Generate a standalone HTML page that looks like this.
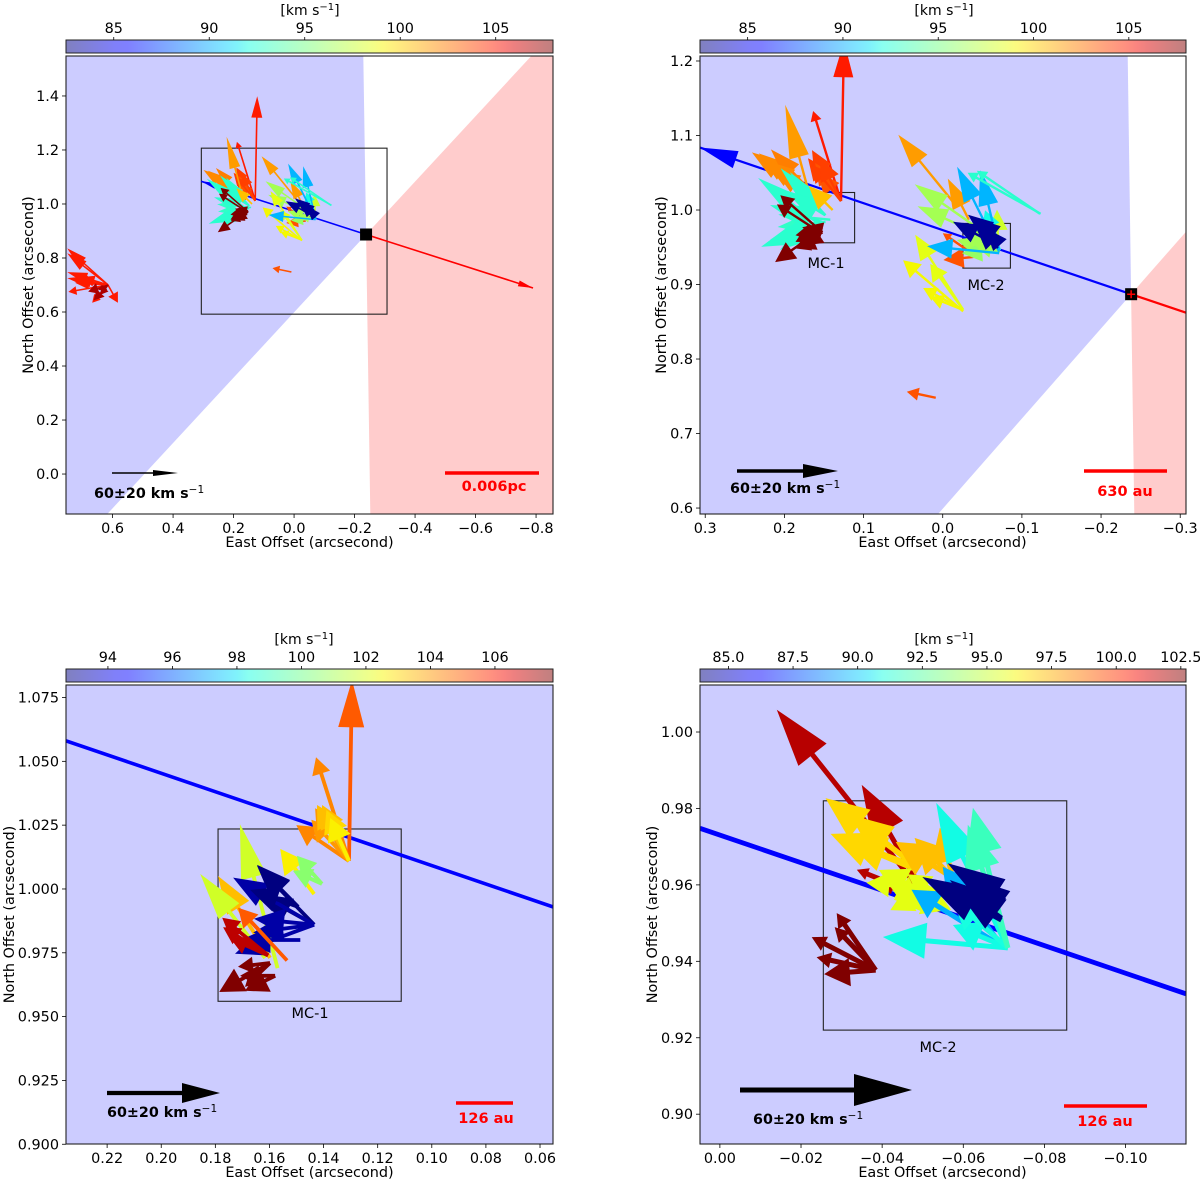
<!DOCTYPE html>
<html lang="en">
<head>
<meta charset="utf-8">
<title>Proper motion maps</title>
<style>
html,body{margin:0;padding:0;background:#fff;overflow:hidden;width:1200px;height:1182px;}
svg{display:block;overflow:hidden;}
text{font-family:"DejaVu Sans",sans-serif;fill:#000;}
</style>
</head>
<body>
<svg id="figure" xmlns="http://www.w3.org/2000/svg" width="1200" height="1182" viewBox="0 0 1200 1182"></svg>
<script>
// Shared field (panels 1 and 2): tail position in arcsec, velocity vector in km/s, LOS velocity, head span in km/s
var sharedX = [.1285,.1285,.1285,.1285,.1285,.1285,.1285,.1285,
  .165,.159,.159,.159,.159,.159,
  .148,.155,.142,.148,.155,.1487,.1487,.1525,.1525,.1525,
  .139,
  .155,.155,.152,.152,.152,.155,.152,.152,.161,
  -.016,-.033,-.048,-.044,-.0387,-.0367,-.0258,-.0258,-.0258,-.0258,-.0258,-.0698,-.0723,-.0723,-.0723,-.0723,-.0723,
  -.0713,-.0713,-.0713,-.1237,-.1227,-.0698,-.0723,-.0698,-.0723,-.0723,.0088,
  .615,.615,.615,.615,.615,.615,.615,.615,.615,.615,.615,.615,.615,.615];
var sharedY = [1.012,1.012,1.012,1.012,1.012,1.012,1.012,1.012,
  1.007,1.017,1.017,1.017,1.017,1.017,
  .993,.98,.987,.984,.98,.993,.993,.984,.984,.984,
  1,
  .973,.97,.97,.973,.976,.962,.97,.97,.96,
  1.007,.987,.973,.969,.937,.942,.866,.864,.866,.866,.866,.956,.944,.946,.946,.946,.946,
  .944,.946,.942,.995,.995,.952,.96,.949,.962,.953,.748,
  .7,.7,.7,.7,.7,.7,.7,.7,.7,.7,.7,.7,.7,.7];
var sharedU = [-1.8,16.6,19.6,17.2,15.4,13.7,17.2,12.5,
  16,38.6,34.5,27.3,31,25,
  26.7,36.8,30.9,28.5,35,20.8,23.8,30.9,30.9,25,
  14.3,
  26.7,25.6,25,16,16,14.9,12,12,12,
  33.9,12.5,39.2,35.7,17.8,17.2,28.5,35.7,23.8,19.6,19.6,.6,25.5,22.6,20,15,8.9,
  25,11.3,42.8,43.4,37.4,26.7,19,13.7,14.9,8.9,17.2,
  37,37,37,37,36,-9,23.4,14.4,9,7.3,25,30,18,13];
var sharedV = [95,53.5,25.5,30.3,22.6,17.2,21.4,25,
  59.4,26.7,26.1,28.5,22,16,
  27.9,27.9,3,-3,-13,25.5,14.9,10,-10.7,-16.6,
  14.3,
  -19,16.6,22,-3,-8.3,-6,3,-8,-5,
  41.6,24.4,27.3,16,-1.8,11.9,44.6,30.3,13,7.7,27.3,19.6,7,-1.8,12,3,23.8,
  50.5,47.5,4.2,24.4,25.5,14.3,14.9,13.7,11.9,10.1,3.6,
  33.3,28.8,11.7,6.3,-6.3,-16.2,2.7,-16.2,-4.5,-9,7,2,-6,-14];
var sharedVel = [105,105,104,104,103.5,103.5,104,104,
  101.5,102,102,102.3,102,102,
  92.7,92.7,92.9,92.9,92.7,92.7,92.7,92.7,92.7,92.7,
  100.5,
  108,108,108,108,108,108,108,108,108,
  101.5,101.5,96.5,96.5,103.5,103.5,98.5,99,99,99,98.5,97.8,96.5,96,96.5,96.5,92,
  90.2,90.2,90.2,92.7,92.7,83,83,83,83,83,103.5,
  105,105,105,105,105,105,105,105,107,107,105,105,107,107];
var sharedErr = [21.4,6,13,13,13,13,10,13,
  32,18,18,18,18,15,
  25,25,18,18,20,25,22,20,22,20,
  14,
  12,8,8,9,9,9,12,12,12,
  20,18,20,18,12,5,15,10,8,8,10,12,12,12,12,10,10,
  21,21,15,6,6,15,15,15,15,15,7,
  20,20,20,20,8,10,8,8,8,8,14,14,10,10];

// MC-1 close-up (panel 3)
var mc1X = [.1306,.1306,.1306,.1306,.1306,.1306,.1306,.1306,.1306,.1435,.1406,.1406,.157,.1598,.1616,.1435,.1435,.1435,.1435,.1435,.1435,.1494,.1494,.1486,.1535,.1605,.1605,.1605,.1598,.1598,.1598,.1579,.1579];
var mc1Y = [1.011,1.011,1.011,1.011,1.011,1.011,1.011,1.011,1.011,.998,1.002,1.002,.969,.973,.973,.986,.986,.986,.986,.986,.986,.993,.993,.98,.972,.974,.974,.974,.971,.971,.971,.966,.966];
var mc1U = [-1.6,17.5,28,20,18,17,14.3,12,10,18,13.3,15.4,20,27.6,34.5,30.3,29.7,43,31.9,32.4,42,21.8,25.5,31.9,26,24.4,23.9,20,27,17,13.3,16,18.6];
var mc1V = [96,55,19,21.8,28,29.7,29.7,27,22.8,24,14.9,7,76.5,43.5,44.6,31.4,16.5,25,3.2,-4.2,-15.4,22.3,9,0,28,20,14.9,9,-15.4,-2,-12.7,-8,0];
var mc1Vel = [105,104.3,104.3,104,104,103.4,103.4,103,102.6,102.6,100.5,100.5,101.8,103.4,101.8,92.7,92.7,93.2,93.2,93.2,93.2,92.7,92.7,93.2,105,107,107,107,107.8,107.8,107.8,107.8,107.8];
var mc1Err = [25,9,11,11,11,12,12,12,12,13,10,10,29,20,25,18,18,18,16,16,16,18,15,16,10,9,9,9,13,8,10,12,10];

// MC-2 close-up (panel 4)
var mc2X = [-.0493,-.051,-.051,-.051,-.0485,-.0485,-.0486,-.0486,-.0574,-.0574,-.0574,-.0485,-.0505,-.0547,-.0505,-.0485,-.0505,-.0547,-.0547,-.0697,-.0697,-.071,-.071,-.071,-.071,-.071,-.071,-.0694,-.0702,-.0694,-.069,-.0384,-.0384,-.0384,-.0384,-.0384];
var mc2Y = [.9587,.9566,.9566,.9566,.9647,.9639,.9647,.9647,.9618,.9618,.9618,.9595,.9579,.9568,.9579,.9595,.9579,.9568,.9568,.9438,.9438,.9435,.9435,.9435,.9435,.9435,.9435,.9508,.956,.9513,.9547,.9377,.9377,.9377,.9377,.9377];
var mc2U = [49.9,22.7,24.4,15.7,31.8,30,23.4,25,19.9,13.3,4.5,17.5,10.8,14.7,12,8,16,12,8,31.8,20.9,25,43.6,19.2,19.2,12.2,14,27.6,19.9,18,14,18,13.6,22.3,20.6,14.3];
var mc2V = [62.8,39.4,9.8,4.5,24,12.6,18.2,9.4,12.6,14,17.5,1.4,-2.4,-2,-6,-4,8,8,-6,19.9,27.9,50.6,3.8,8,16.8,48.9,43,15,12.9,13.3,10.5,-1.4,19.9,11.5,4.5,15];
var mc2Vel = [101.8,101.8,101.8,101.8,96.7,96.7,96.7,96.7,97.2,97.2,97.2,95.7,95.7,95.7,95.7,95.7,95.7,95.7,95.7,89.5,89.5,90.9,90.9,90.9,91,91.8,91.8,83.9,83.9,83.9,83.9,102.7,102.7,102.7,102.7,102.7];
var mc2Err = [20,18,4,4,15,14,15,14,12,12,12,8,10,10,8,8,10,8,10,10,10,21,15,10,10,16,16,20,20,20,18,9,5,5,5,5];

// Tick labels
var p1XTicks = [.6,.4,.2,0,-.2,-.4,-.6,-.8];
var p1YTicks = [0,.2,.4,.6,.8,1,1.2,1.4];
var p2XTicks = [.3,.2,.1,0,-.1,-.2,-.3];
var p2YTicks = [.6,.7,.8,.9,1,1.1,1.2];
var p3XTicks = [.22,.2,.18,.16,.14,.12,.1,.08,.06];
var p3YTicks = [.9,.925,.95,.975,1,1.025,1.05,1.075];
var p4XTicks = [0,-.02,-.04,-.06,-.08,-.1];
var p4YTicks = [.9,.92,.94,.96,.98,1];
var cb1Ticks = [85,90,95,100,105];
var cb3Ticks = [94,96,98,100,102,104,106];
var cb4Ticks = [85,87.5,90,92.5,95,97.5,100,102.5];

// Geometry of the outflow axis and cones, arcsec
var apexPoint = [-.238,.887];
var blueTip = [.307,1.084];
var redTip = [-.79,.689];
var box1 = [.179,.1113,1.0235,.956];
var box2 = [-.0255,-.0855,.982,.922];

var NS = 'http://www.w3.org/2000/svg';
var svg = document.getElementById('figure');
var defs = document.createElementNS(NS, 'defs');
svg.appendChild(defs);

function mk(tag, attrs, parent) {
  var e = document.createElementNS(NS, tag);
  for (var k in attrs) { e.setAttribute(k, attrs[k]); }
  parent.appendChild(e);
  return e;
}
function fmt(v, dec) {
  return (v < 0 ? '\u2212' : '') + Math.abs(v).toFixed(dec);
}
function jet(t) {
  t = Math.max(0, Math.min(1, t));
  function lerp(pts) {
    for (var i = 1; i < pts.length; i++) {
      if (t <= pts[i][0]) {
        var a = pts[i - 1], b = pts[i];
        return a[1] + (b[1] - a[1]) * (t - a[0]) / (b[0] - a[0]);
      }
    }
    return pts[pts.length - 1][1];
  }
  var r = lerp([[0,0],[.35,0],[.66,1],[.89,1],[1,.5]]);
  var g = lerp([[0,0],[.125,0],[.375,1],[.64,1],[.91,0],[1,0]]);
  var b = lerp([[0,.5],[.11,1],[.34,1],[.65,0],[1,0]]);
  return 'rgb(' + Math.round(r * 255) + ',' + Math.round(g * 255) + ',' + Math.round(b * 255) + ')';
}
function clipEdge(poly, inside, cross) {
  var out = [];
  for (var i = 0; i < poly.length; i++) {
    var a = poly[i], b = poly[(i + 1) % poly.length];
    var ia = inside(a), ib = inside(b);
    if (ia) { out.push(a); }
    if (ia !== ib) { out.push(cross(a, b)); }
  }
  return out;
}
function clipRect(poly, L, T, R, B) {
  function atX(x) { return function (a, b) { return [x, a[1] + (b[1] - a[1]) * (x - a[0]) / (b[0] - a[0])]; }; }
  function atY(y) { return function (a, b) { return [a[0] + (b[0] - a[0]) * (y - a[1]) / (b[1] - a[1]), y]; }; }
  poly = clipEdge(poly, function (p) { return p[0] >= L; }, atX(L));
  poly = clipEdge(poly, function (p) { return p[0] <= R; }, atX(R));
  poly = clipEdge(poly, function (p) { return p[1] >= T; }, atY(T));
  poly = clipEdge(poly, function (p) { return p[1] <= B; }, atY(B));
  return poly;
}
function clipSegment(x1, y1, x2, y2, L, T, R, B) {
  var t0 = 0, t1 = 1, dx = x2 - x1, dy = y2 - y1;
  var ps = [-dx, dx, -dy, dy], qs = [x1 - L, R - x1, y1 - T, B - y1];
  for (var i = 0; i < 4; i++) {
    if (ps[i] === 0) {
      if (qs[i] < 0) { return null; }
    } else {
      var r = qs[i] / ps[i];
      if (ps[i] < 0) { t0 = Math.max(t0, r); } else { t1 = Math.min(t1, r); }
    }
  }
  if (t0 > t1) { return null; }
  return [x1 + t0 * dx, y1 + t0 * dy, x1 + t1 * dx, y1 + t1 * dy];
}

var panels = [
  {id:'p1', L:66, T:56, W:487, H:458, xl:.754, xr:-.856, yb:-.148, yt:1.548, vmin:82.5, vmax:108,
   xt:p1XTicks, xd:1, yt2:p1YTicks, yd:1, ct:cb1Ticks, cd:0, scale:1.1, hw:11, sw:1.6, hk:1.0,
   yTitleX:28, cones:true, bigBox:true, marker:'plain', hb:15, hbw:6, lw:1.6,
   refX:[112,178], refY:473, refSw:1.6, refHl:25, refHw:6, refTx:94, refTy:498, sbar:[445,539,473], sTxt:'0.006pc', sTxtX:494, sTxtY:491, mc:[]},
  {id:'p2', L:700, T:56, W:486, H:458, xl:.3066, xr:-.3073, yb:.592, yt:1.2067, vmin:82.5, vmax:108,
   xt:p2XTicks, xd:1, yt2:p2YTicks, yd:1, ct:cb1Ticks, cd:0, scale:1.683, hw:20, sw:2.4, hk:1.683,
   yTitleX:661, cones:true, bigBox:false, marker:'cross', hb:38, hbw:18, lw:2.2,
   refX:[737,838], refY:471, refSw:3.6, refHl:35, refHw:14, refTx:730, refTy:493, sbar:[1084,1167,471], sTxt:'630 au', sTxtX:1125, sTxtY:496, mc:[[box1,'MC-1',826,268],[box2,'MC-2',986,290]]},
  {id:'p3', L:66, T:685, W:487, H:459, xl:.2352, xr:.0552, yb:.9001, yt:1.0799, vmin:92.7, vmax:107.8,
   xt:p3XTicks, xd:2, yt2:p3YTicks, yd:3, ct:cb3Ticks, cd:0, scale:1.883, hw:26, sw:3.8, hk:1.883,
   yTitleX:9, cones:false, bigBox:false, marker:'none', hb:0, hbw:0, lw:3.6,
   refX:[107,220], refY:1093, refSw:4.2, refHl:38, refHw:20, refTx:107, refTy:1117, sbar:[456,513,1103], sTxt:'126 au', sTxtX:486, sTxtY:1123, mc:[[box1,'MC-1',310,1018]]},
  {id:'p4', L:700, T:685, W:486, H:459, xl:.0049, xr:-.1149, yb:.8922, yt:1.0123, vmin:83.9, vmax:102.7,
   xt:p4XTicks, xd:2, yt2:p4YTicks, yd:2, ct:cb4Ticks, cd:1, scale:2.867, hw:36, sw:5, hk:2.867,
   yTitleX:652, cones:false, bigBox:false, marker:'none', hb:0, hbw:0, lw:4.8,
   refX:[740,912], refY:1090, refSw:5, refHl:58, refHw:32, refTx:753, refTy:1124, sbar:[1064,1147,1106], sTxt:'126 au', sTxtX:1105, sTxtY:1126, mc:[[box2,'MC-2',938,1052]]}
];

function drawPanel(P, idx, xs, ys, us, vs, vels, errs) {
  var xPx = function (d) { return P.L + (P.xl - d) / (P.xl - P.xr) * P.W; };
  var yPx = function (d) { return P.T + (P.yt - d) / (P.yt - P.yb) * P.H; };
  var cPx = function (v) { return P.L + (v - P.vmin) / (P.vmax - P.vmin) * P.W; };

  var clip = mk('clipPath', {id: 'clip-' + P.id}, defs);
  mk('rect', {x: P.L, y: P.T, width: P.W, height: P.H}, clip);

  var g = mk('g', {}, svg);
  
  

  var plot = mk('g', {'clip-path': 'url(#clip-' + P.id + ')'}, g);
  
  

  var bg = mk('rect', {x: P.L, y: P.T, width: P.W, height: P.H, fill: P.cones ? '#ffffff' : '#ccccff'}, plot);
  
  

  if (P.cones) {
    var ax = apexPoint[0], ay = apexPoint[1];
    var far = 4;
    var bluePts = [[ax, ay], [ax + .0136 * far, ay + far], [ax + far, ay + far], [ax + far, ay - 1.21 * far]];
    var redPts = [[ax, ay], [ax - far, ay + 1.21 * far], [ax - far, ay - far], [ax - .0136 * far, ay - far]];
    var toPts = function (arr) {
      var px = arr.map(function (p) { return [xPx(p[0]), yPx(p[1])]; });
      return clipRect(px, P.L, P.T, P.L + P.W, P.T + P.H).map(function (p) { return p[0].toFixed(1) + ',' + p[1].toFixed(1); }).join(' ');
    };
    var cb = mk('polygon', {points: toPts(bluePts), fill: '#ccccff'}, plot);
    
    
    var cr = mk('polygon', {points: toPts(redPts), fill: '#ffcccc'}, plot);
    
    
  }

  if (P.bigBox) {
    var bb = mk('rect', {x: xPx(.3066), y: yPx(1.2067), width: xPx(-.3073) - xPx(.3066), height: yPx(.592) - yPx(1.2067), fill: 'none', stroke: '#222', 'stroke-width': 1.1}, plot);
    
    
  }
  P.mc.forEach(function (m) {
    var b = m[0];
    var r = mk('rect', {x: xPx(b[0]), y: yPx(b[2]), width: xPx(b[1]) - xPx(b[0]), height: yPx(b[3]) - yPx(b[2]), fill: 'none', stroke: '#222', 'stroke-width': 1.1}, plot);
    
    
    var t = mk('text', {x: m[2], y: m[3], 'text-anchor': 'middle', 'font-size': 14.5}, plot);
    
    
    t.textContent = m[1];
  });

  // Outflow axis, trimmed to the axes box
  var R = P.L + P.W, B = P.T + P.H;
  var blueSeg = clipSegment(xPx(apexPoint[0]), yPx(apexPoint[1]), xPx(blueTip[0]), yPx(blueTip[1]), P.L, P.T, R, B);
  if (blueSeg) {
    var blueLine = mk('line', {x1: blueSeg[0], y1: blueSeg[1], x2: blueSeg[2], y2: blueSeg[3], stroke: '#0000ff', 'stroke-width': P.lw}, plot);
    
    
  }
  var redSeg = clipSegment(xPx(apexPoint[0]), yPx(apexPoint[1]), xPx(redTip[0]), yPx(redTip[1]), P.L, P.T, R, B);
  if (redSeg) {
    var redLine = mk('line', {x1: redSeg[0], y1: redSeg[1], x2: redSeg[2], y2: redSeg[3], stroke: '#ff0000', 'stroke-width': P.lw}, plot);
    
    
  }
  if (P.hb > 0) {
    [[blueTip, '#0000ff', 'blue-axis-head'], [redTip, '#ff0000', 'red-axis-head']].forEach(function (h) {
      var tx = xPx(h[0][0]), ty = yPx(h[0][1]);
      if (tx < P.L - 5 || tx > R + 5) { return; }
      var ex = xPx(apexPoint[0]) - tx, ey = yPx(apexPoint[1]) - ty;
      var n = Math.sqrt(ex * ex + ey * ey);
      ex /= n; ey /= n;
      var bx = tx + ex * P.hb, by = ty + ey * P.hb;
      var pts = [tx + ',' + ty, (bx - ey * P.hbw / 2) + ',' + (by + ex * P.hbw / 2), (bx + ey * P.hbw / 2) + ',' + (by - ex * P.hbw / 2)].join(' ');
      var hd = mk('polygon', {points: pts, fill: h[1]}, plot);
      
      
    });
  }

  // Velocity arrows
  for (var i = 0; i < xs.length; i++) {
    var tx0 = xPx(xs[i]), ty0 = yPx(ys[i]);
    var dx = -us[i] * P.scale, dy = -vs[i] * P.scale;
    var len = Math.sqrt(dx * dx + dy * dy);
    var ux = dx / len, uy = dy / len;
    var nx = -uy, ny = ux;
    var hl = errs[i] * P.hk, hw = Math.min(P.hw, hl * 1.1), sw = P.sw;
    if (len < hl) { var k = len / hl; hl *= k; hw *= k; sw *= k; }
    var bx0 = tx0 + ux * (len - hl), by0 = ty0 + uy * (len - hl);
    var pts0 = [
      [tx0 + nx * sw / 2, ty0 + ny * sw / 2],
      [bx0 + nx * sw / 2, by0 + ny * sw / 2],
      [bx0 + nx * hw / 2, by0 + ny * hw / 2],
      [tx0 + dx, ty0 + dy],
      [bx0 - nx * hw / 2, by0 - ny * hw / 2],
      [bx0 - nx * sw / 2, by0 - ny * sw / 2],
      [tx0 - nx * sw / 2, ty0 - ny * sw / 2]
    ].map(function (p) { return p[0].toFixed(1) + ',' + p[1].toFixed(1); }).join(' ');
    var arrow = mk('polygon', {points: pts0, fill: jet((vels[i] - P.vmin) / (P.vmax - P.vmin))}, plot);
    
    
  }

  if (P.marker !== 'none') {
    var mx = xPx(apexPoint[0]), my = yPx(apexPoint[1]);
    var sq = mk('rect', {x: mx - 6, y: my - 6, width: 12, height: 12, fill: '#000'}, plot);
    
    
    if (P.marker === 'cross') {
      var cross = mk('path', {d: 'M' + (mx - 4) + ' ' + my + 'H' + (mx + 4) + 'M' + mx + ' ' + (my - 4) + 'V' + (my + 4), stroke: '#ff0000', 'stroke-width': 1.5, fill: 'none'}, plot);
      
      
    }
  }

  // Reference arrow
  var rx0 = P.refX[0], rx1 = P.refX[1], ry = P.refY, rb = rx1 - P.refHl;
  var ref = mk('polygon', {points: [rx0 + ',' + (ry - P.refSw / 2), rb + ',' + (ry - P.refSw / 2), rb + ',' + (ry - P.refHw / 2), rx1 + ',' + ry, rb + ',' + (ry + P.refHw / 2), rb + ',' + (ry + P.refSw / 2), rx0 + ',' + (ry + P.refSw / 2)].join(' '), fill: '#000'}, plot);
  
  
  var rt = mk('text', {x: P.refTx, y: P.refTy, 'font-size': 14.3, 'font-weight': 'bold'}, plot);
  
  
  rt.appendChild(document.createTextNode('60\u00b120 km s'));
  var rs = mk('tspan', {dy: -5, 'font-size': 10.5, 'font-weight': 'normal'}, rt);
  rs.textContent = '\u22121';

  // Scale bar
  var sb = mk('line', {x1: P.sbar[0], x2: P.sbar[1], y1: P.sbar[2], y2: P.sbar[2], stroke: '#ff0000', 'stroke-width': 3.6}, plot);
  
  
  var st = mk('text', {x: P.sTxtX, y: P.sTxtY, 'text-anchor': 'middle', 'font-size': 14.5, 'font-weight': 'bold', style: 'fill:#ff0000'}, plot);
  
  
  st.textContent = P.sTxt;

  // Spines
  var spine = mk('rect', {x: P.L, y: P.T, width: P.W, height: P.H, fill: 'none', stroke: '#222', 'stroke-width': 1.1}, g);
  
  

  // Ticks
  var bottom = P.T + P.H;
  P.xt.forEach(function (v) {
    var px = xPx(v);
    var tk = mk('line', {x1: px, x2: px, y1: bottom, y2: bottom + 4, stroke: '#000', 'stroke-width': .8}, g);
    
    
    var lb = mk('text', {x: px, y: bottom + 19, 'text-anchor': 'middle', 'font-size': 14.4}, g);
    
    
    lb.textContent = fmt(v, P.xd);
  });
  P.yt2.forEach(function (v) {
    var py = yPx(v);
    var tk = mk('line', {x1: P.L - 4, x2: P.L, y1: py, y2: py, stroke: '#000', 'stroke-width': .8}, g);
    
    
    var lb = mk('text', {x: P.L - 7, y: py + 5, 'text-anchor': 'end', 'font-size': 14.4}, g);
    
    
    lb.textContent = fmt(v, P.yd);
  });

  var xTitle = mk('text', {x: P.L + P.W / 2 + (P.id === 'p2' || P.id === 'p4' ? -.5 : 0), y: bottom + 33, 'text-anchor': 'middle', 'font-size': 14.4}, g);
  
  
  xTitle.textContent = 'East Offset (arcsecond)';
  var yc = P.T + P.H / 2;
  var yTitle = mk('text', {x: P.yTitleX + 5, y: yc, 'text-anchor': 'middle', 'font-size': 14.4, transform: 'rotate(-90 ' + (P.yTitleX + 5) + ' ' + yc + ')'}, g);
  
  
  yTitle.textContent = 'North Offset (arcsecond)';

  // Colour bar
  var gradient = mk('linearGradient', {id: 'grad-' + P.id, x1: 0, x2: 1, y1: 0, y2: 0}, defs);
  for (var s = 0; s <= 40; s++) {
    mk('stop', {offset: s / 40, 'stop-color': jet(s / 40), 'stop-opacity': .5}, gradient);
  }
  var cTop = P.T - 16, cH = 13;
  var bar = mk('rect', {x: P.L, y: cTop, width: P.W, height: cH, fill: 'url(#grad-' + P.id + ')', stroke: '#222', 'stroke-width': 1}, g);
  
  
  P.ct.forEach(function (v) {
    var px = cPx(v);
    var tk = mk('line', {x1: px, x2: px, y1: cTop - 3, y2: cTop, stroke: '#000', 'stroke-width': .8}, g);
    
    
    var lb = mk('text', {x: px, y: cTop - 7, 'text-anchor': 'middle', 'font-size': 14.4}, g);
    
    
    lb.textContent = fmt(v, P.cd);
  });
  var ct = mk('text', {x: P.L + (P.id === 'p3' ? 238 : 244), y: P.T - 41, 'text-anchor': 'middle', 'font-size': 14}, g);
  
  
  ct.appendChild(document.createTextNode('[km s'));
  var cs = mk('tspan', {dy: -5, 'font-size': 10}, ct);
  cs.textContent = '\u22121';
  var ce = mk('tspan', {dy: 5}, ct);
  ce.textContent = ']';
}

drawPanel(panels[0], 0, sharedX, sharedY, sharedU, sharedV, sharedVel, sharedErr);
drawPanel(panels[1], 1, sharedX, sharedY, sharedU, sharedV, sharedVel, sharedErr);
drawPanel(panels[2], 2, mc1X, mc1Y, mc1U, mc1V, mc1Vel, mc1Err);
drawPanel(panels[3], 3, mc2X, mc2Y, mc2U, mc2V, mc2Vel, mc2Err);
</script>
</body>
</html>
